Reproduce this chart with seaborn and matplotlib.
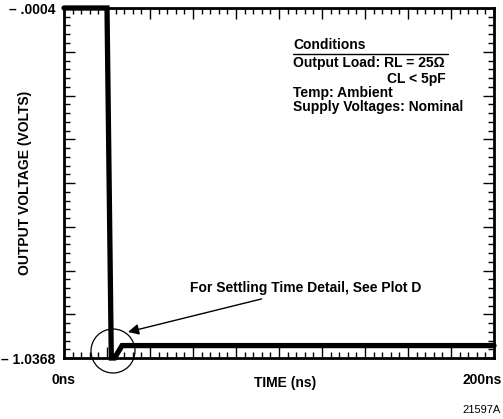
import numpy as np
import pandas as pd
import matplotlib
matplotlib.use("Agg")
import matplotlib.pyplot as plt
import matplotlib.transforms as mtransforms
from matplotlib.patches import Ellipse
from matplotlib import font_manager
import seaborn as sns

# ---- data ----
time_ns = [0, 20, 22, 23.5, 27, 200]
voltage = [-0.0004, -0.0004, -1.0368, -1.0368, -1.0, -1.0]
y_top, y_bottom = -0.0004, -1.0368
x_labels = ["0ns", "200ns"]
y_labels = ["\u2013 .0004", "\u2013 1.0368"]
conditions = ["Output Load: RL = 25\u03a9", "CL < 5pF", "Temp: Ambient", "Supply Voltages: Nominal"]

sns.set_theme(style="ticks")
names = {f.name for f in font_manager.fontManager.ttflist}
narrow = "Liberation Sans Narrow" if "Liberation Sans Narrow" in names else "Liberation Sans"
plt.rcParams["font.family"] = [narrow, "DejaVu Sans"]
for k in ["text.color", "axes.labelcolor", "xtick.color", "ytick.color", "axes.edgecolor"]:
    plt.rcParams[k] = "black"

FS = 10 if narrow == "Liberation Sans" else 11

fig = plt.figure(figsize=(5.03, 4.19), dpi=100)
ax = fig.add_axes([64/503, 1-358/419, 430/503, 350/419])

df = pd.DataFrame({"t": time_ns, "v": voltage})
sns.lineplot(data=df, x="t", y="v", ax=ax, sort=False, estimator=None,
             color="black", linewidth=3.8, solid_joinstyle="miter")
for ln in ax.get_lines():
    ln.set_clip_on(False)

ax.set_xlim(0, 200)
ax.set_ylim(y_bottom, y_top)

for s in ax.spines.values():
    s.set_linewidth(2.0)
    s.set_color("black")

ax.set_xticks(np.arange(0, 201, 20), minor=False)
ax.set_xticklabels([x_labels[0]] + [""] * 9 + [x_labels[1]], fontsize=FS, fontweight="bold")
ax.set_xticks(np.arange(0, 201, 4), minor=True)

yt = np.linspace(y_bottom, y_top, 9)
ax.set_yticks(yt)
ax.set_yticklabels([y_labels[1]] + [""] * 7 + [y_labels[0]], fontsize=FS, fontweight="bold")
ax.set_yticks(np.linspace(y_bottom, y_top, 41), minor=True)

ax.tick_params(which="major", direction="in", length=8, width=1.0, color="black",
               top=True, right=True, pad=11)
ax.tick_params(which="minor", direction="in", length=4, width=1.0, color="black",
               top=True, right=True)
ax.tick_params(axis="y", which="major", pad=6)

# shift the 200ns label a bit left of its right end
lbls = ax.get_xticklabels()
off = mtransforms.ScaledTranslation(-12/100, 0, fig.dpi_scale_trans)
lbls[-1].set_transform(lbls[-1].get_transform() + off)

ax.set_xlabel("TIME (ns)", fontsize=FS, fontweight="bold", va="center")
ax.xaxis.set_label_coords((285-64)/430, (358-383)/350)
ax.set_ylabel("OUTPUT VOLTAGE (VOLTS)", fontsize=FS, fontweight="bold", va="center")
ax.yaxis.set_label_coords((25-64)/430, (358-183)/350)

# conditions block
tx = (293-64)/430
kw = dict(transform=ax.transAxes, fontsize=FS, fontweight="bold", va="center", ha="left")
ax.text(tx, (358-45)/350, "Conditions", **kw)
ax.plot([tx, (448-64)/430], [(358-54)/350]*2, transform=ax.transAxes, color="black", lw=1.0)
ax.text(tx, (358-63)/350, conditions[0], **kw)
ax.text((387-64)/430, (358-79)/350, conditions[1], **kw)
ax.text(tx, (358-93)/350, conditions[2], **kw)
ax.text(tx, (358-107)/350, conditions[3], **kw)

# annotation with circle
ax.annotate("For Settling Time Detail, See Plot D",
            xy=((128-64)/430, (358-332)/350), xycoords="axes fraction",
            xytext=((190-64)/430, (358-288)/350), textcoords="axes fraction",
            fontsize=FS, fontweight="bold", va="center", ha="left",
            arrowprops=dict(arrowstyle="-|>", color="black", lw=1.0,
                            mutation_scale=16, shrinkA=2, shrinkB=0))
circ = Ellipse(((113-64)/430, (358-351)/350), 44/430, 44/350, transform=ax.transAxes,
               fill=False, edgecolor="black", lw=0.9, clip_on=False)
ax.add_patch(circ)

fig.text(501/503, 1-410/419, "21597A", ha="right", va="center", fontsize=8)

fig.savefig("out.png", dpi=100)
